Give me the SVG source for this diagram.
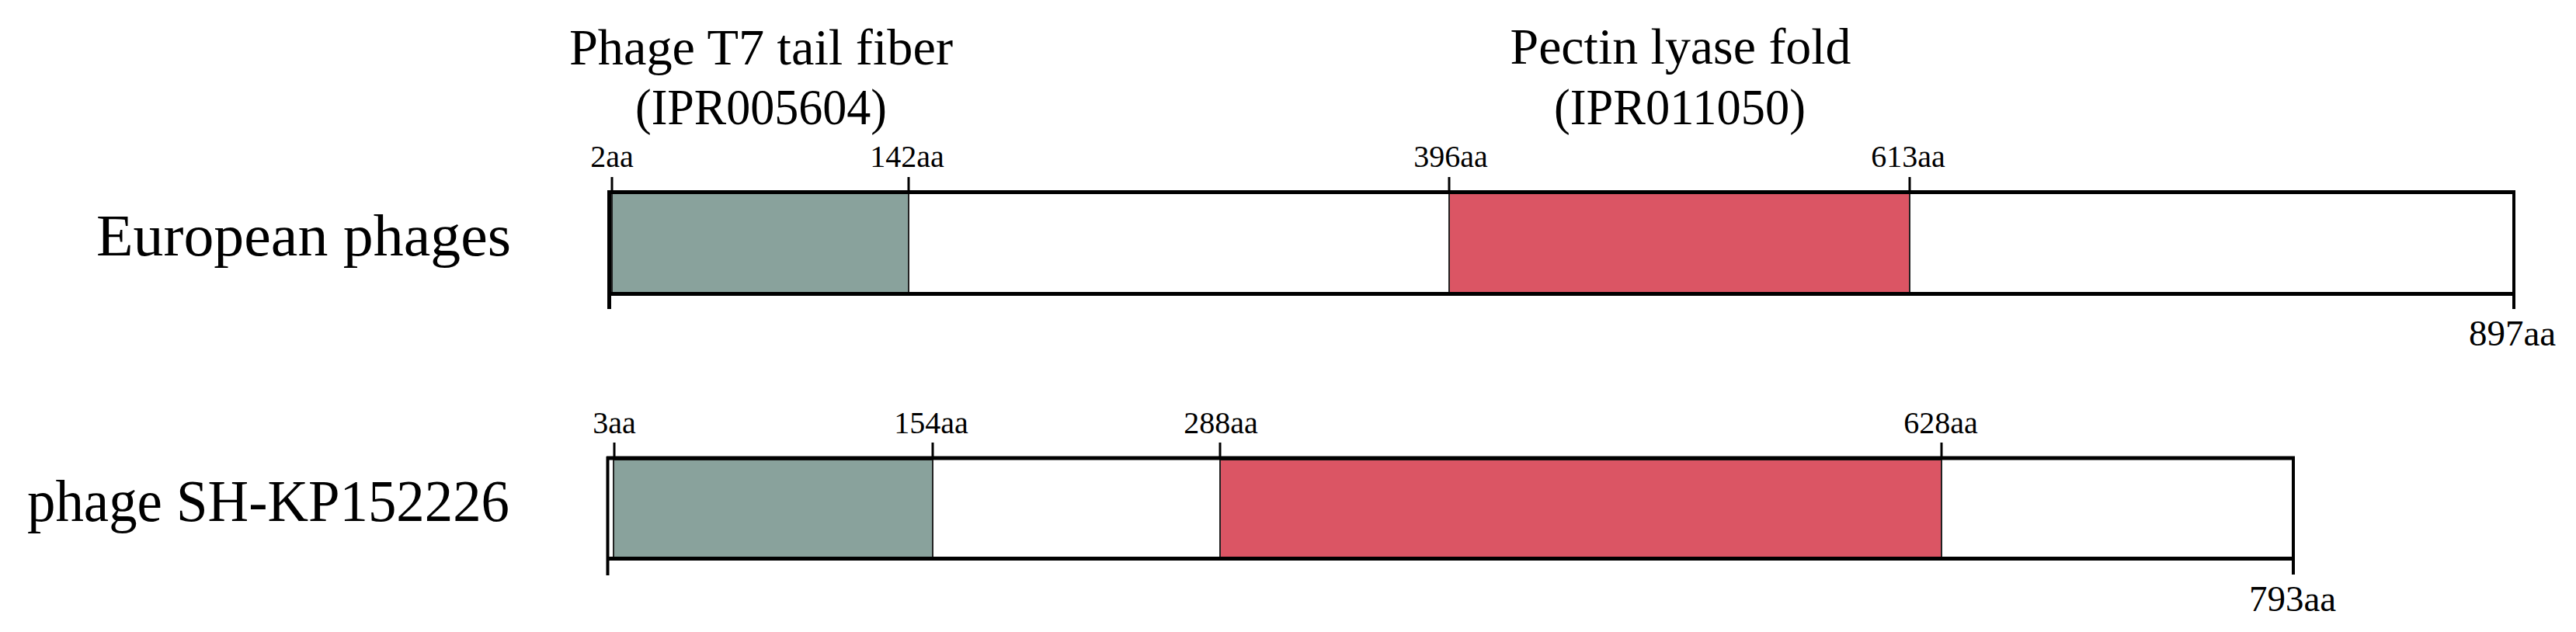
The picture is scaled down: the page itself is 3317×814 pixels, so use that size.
<svg xmlns="http://www.w3.org/2000/svg" width="3317" height="814" viewBox="0 0 3317 814">
<style>
text{font-family:"Liberation Serif","Times New Roman",serif;fill:#000}
.title{font-size:66px;text-anchor:middle}
.row{font-size:76px}
.tick{font-size:40px;text-anchor:middle}
.end{font-size:47px;text-anchor:middle}
.bg{fill:#fff}
.t7{fill:#89A29C;stroke:#222;stroke-width:2}
.pl{fill:#DB5564;stroke:#222;stroke-width:2}
.edge{stroke:#000;stroke-width:5;fill:none}
.side{stroke:#000;stroke-width:4;fill:none}
.tk{stroke:#000;stroke-width:3;fill:none}
</style>
<rect width="3317" height="814" fill="#fff"/>
<g id="domain-titles">
<text class="title" x="980" y="83" textLength="494" lengthAdjust="spacingAndGlyphs">Phage T7 tail fiber</text>
<text class="title" x="980" y="160" textLength="324" lengthAdjust="spacingAndGlyphs">(IPR005604)</text>
<text class="title" x="2164" y="82" textLength="439" lengthAdjust="spacingAndGlyphs">Pectin lyase fold</text>
<text class="title" x="2163" y="160" textLength="324" lengthAdjust="spacingAndGlyphs">(IPR011050)</text>
</g>
<g id="european-phages">
<text class="row" x="124" y="329" textLength="534" lengthAdjust="spacingAndGlyphs">European phages</text>
<rect class="bg" x="784" y="247" width="2453" height="132"/>
<rect class="t7" x="788" y="249" width="382" height="128"/>
<rect class="pl" x="1866" y="249" width="593" height="128"/>
<line class="edge" x1="782" y1="247.5" x2="3239" y2="247.5"/>
<line class="edge" x1="782" y1="378.5" x2="3239" y2="378.5"/>
<line class="edge" x1="784.5" y1="245" x2="784.5" y2="398"/>
<line class="side" x1="3237" y1="245" x2="3237" y2="398"/>
<line class="tk" x1="788" y1="228" x2="788" y2="247"/>
<line class="tk" x1="1170" y1="228" x2="1170" y2="247"/>
<line class="tk" x1="1866" y1="228" x2="1866" y2="247"/>
<line class="tk" x1="2459" y1="228" x2="2459" y2="247"/>
<text class="tick" x="788" y="215">2aa</text>
<text class="tick" x="1168" y="215">142aa</text>
<text class="tick" x="1868" y="215">396aa</text>
<text class="tick" x="2457" y="215">613aa</text>
<text class="end" x="3235" y="445">897aa</text>
</g>
<g id="phage-sh-kp152226">
<text class="row" x="35" y="671" textLength="621" lengthAdjust="spacingAndGlyphs">phage SH-KP152226</text>
<rect class="bg" x="782" y="590" width="2171" height="130"/>
<rect class="t7" x="790" y="592" width="411" height="126"/>
<rect class="pl" x="1571" y="592" width="929" height="126"/>
<line class="edge" x1="781" y1="590" x2="2955" y2="590"/>
<line class="edge" x1="781" y1="719.5" x2="2955" y2="719.5"/>
<line class="side" x1="782.5" y1="588" x2="782.5" y2="741"/>
<line class="side" x1="2953" y1="588" x2="2953" y2="740"/>
<line class="tk" x1="791" y1="570" x2="791" y2="590"/>
<line class="tk" x1="1201" y1="570" x2="1201" y2="590"/>
<line class="tk" x1="1571" y1="570" x2="1571" y2="590"/>
<line class="tk" x1="2500" y1="570" x2="2500" y2="590"/>
<text class="tick" x="791" y="558">3aa</text>
<text class="tick" x="1199" y="558">154aa</text>
<text class="tick" x="1572" y="558">288aa</text>
<text class="tick" x="2499" y="558">628aa</text>
<text class="end" x="2952" y="787">793aa</text>
</g>
<g id="connectors"></g>
</svg>
